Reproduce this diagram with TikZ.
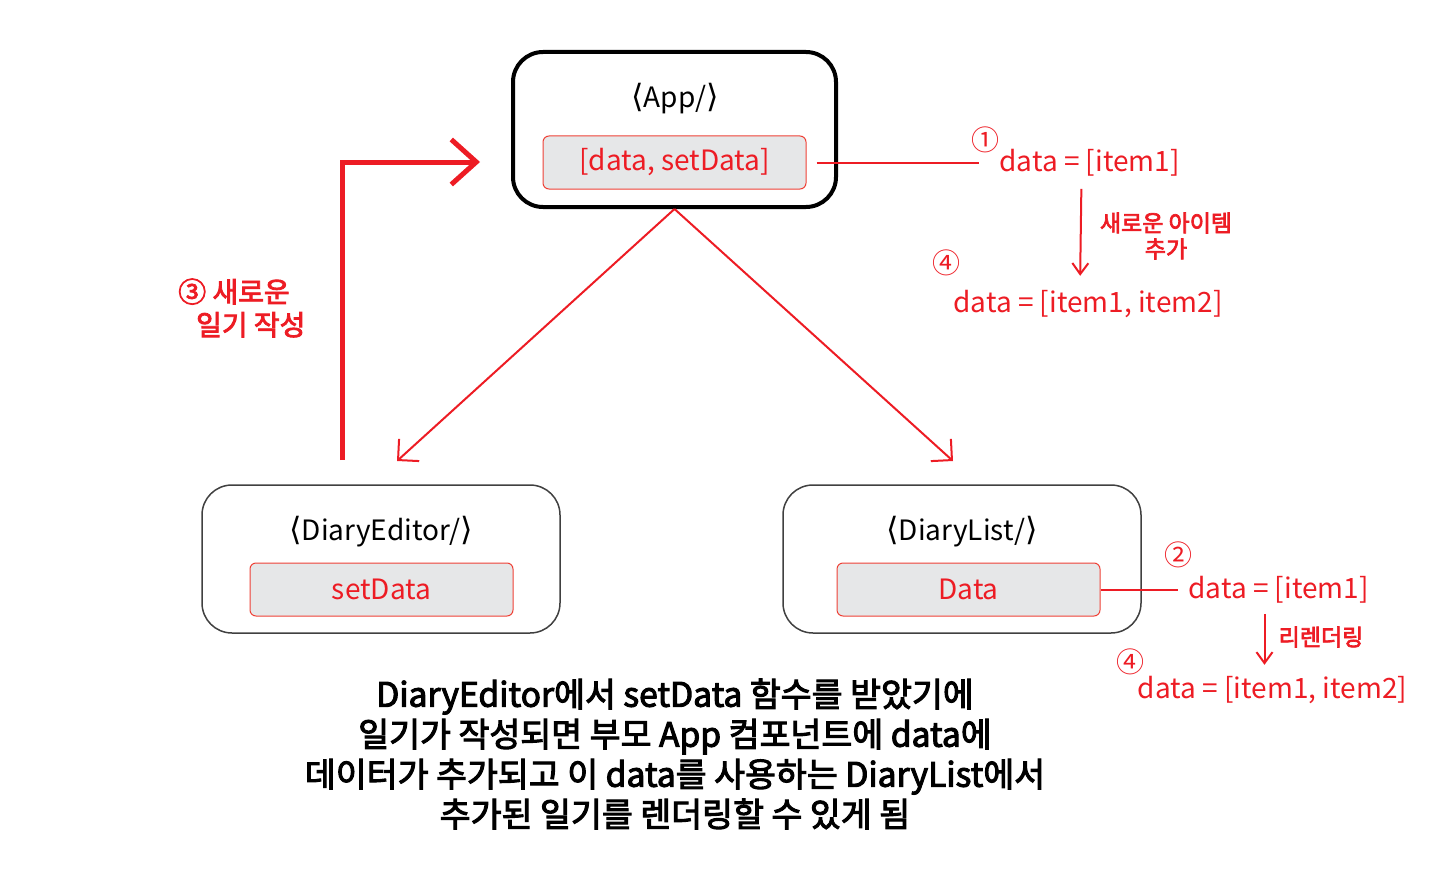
\documentclass[tikz,border=0pt]{standalone}
\usepackage{fontspec}
\setmainfont{Noto Sans CJK KR}
\newfontfamily\medfont[FakeBold=3]{Noto Sans CJK KR}
\newfontfamily\symfont{DejaVu Sans}
\usetikzlibrary{arrows.meta}
\definecolor{dred}{RGB}{237,28,36}
\definecolor{sred}{RGB}{239,65,54}
\definecolor{sgray}{RGB}{230,231,232}
\newcommand{\tag}[1]{{\symfont\fontsize{16}{16}\selectfont⟨}#1{\symfont\fontsize{16}{16}\selectfont⟩}}
\tikzset{
  comp/.style={draw=black!75, line width=0.75pt, rounded corners=15pt, minimum width=179pt, minimum height=74pt},
  statebox/.style={draw=sred, fill=sgray, line width=0.5pt, rounded corners=3pt, minimum width=131.5pt, minimum height=26.5pt, text=dred, font=\fontsize{14}{16}\selectfont},
  title/.style={font=\fontsize{14}{16}\selectfont},
  val/.style={text=dred, inner sep=1pt, font=\fontsize{14}{16}\selectfont},
  num/.style={text=dred, inner sep=0pt, font=\fontsize{14}{14}\selectfont},
  note/.style={text=dred, align=center, font=\medfont\fontsize{11.5}{13}\selectfont},
  thinarrow/.style={draw=dred, line width=1pt, -{Straight Barb[length=7.5pt,width=15pt]}},
  smallarrow/.style={draw=dred, line width=1pt, -{Straight Barb[length=5.5pt,width=8pt]}},
}
\begin{document}
\begin{tikzpicture}[x=0.5pt,y=-0.5pt]
    \useasboundingbox (0,0) rectangle (1440,888);
    % components
    \node[comp, draw=black, line width=2pt, minimum width=161.5pt, minimum height=77.5pt] (app) at (674.5,129.5) {};
    \node[title] (apptitle) at (675,99) {\tag{App/}};
    \node[statebox] (appstate) at (674.5,162.5) {[data, setData]};
    \node[comp] (editor) at (381,559) {};
    \node[title] (edtitle) at (381,532) {\tag{DiaryEditor/}};
    \node[statebox] (edstate) at (381.5,589.5) {setData};
    \node[comp] (list) at (962,559) {};
    \node[title] (lstitle) at (962,532) {\tag{DiaryList/}};
    \node[statebox] (lsstate) at (968.5,589.5) {Data};
    % props
    \coordinate (edin) at (397,461);
    \coordinate (lsin) at (953,461);
    \draw[thinarrow] (app.south) -- (edin);
    \draw[thinarrow] (app.south) -- (lsin);
    % new diary
    \coordinate (edout) at (342,460);
    \coordinate (appin) at (480,162);
    \draw[draw=dred, line width=2.5pt, -{Straight Barb[length=12.5pt,width=22.5pt]}] (edout) |- (appin);
    \node[text=dred, align=center, font=\medfont\fontsize{14}{16.5}\selectfont] (write) at (234,308) {③ 새로운\\\hspace{1.2em}일기 작성};
    % App state
    \node[val, anchor=west] (d1) at (997,163) {data = [item1]};
    \node[num] (n1) at (985,140) {①};
    \draw[dred, line width=1pt] ([xshift=5pt]appstate.east) -- ([xshift=-9pt]appstate.east -| d1.west);
    \node[val] (d2) at (1088,304) {data = [item1, item2]};
    \node[num] (n4a) at (946,263) {④};
    \draw[smallarrow, shorten <=5pt, shorten >=6pt] ([xshift=-4pt]d1.south) -- ([xshift=-4pt]d2.north);
    \node[note] (add) at (1166,236) {새로운 아이템\\추가};
    % DiaryList state
    \node[val, anchor=west] (d3) at (1186,590) {data = [item1]};
    \node[num] (n2) at (1178,555) {②};
    \draw[dred, line width=1pt] (lsstate.east) -- ([xshift=-4pt]lsstate.east -| d3.west);
    \node[val] (d4) at (1272.5,690) {data = [item1, item2]};
    \node[num] (n4b) at (1130,662) {④};
    \draw[smallarrow, shorten <=4pt, shorten >=4.5pt] ([xshift=-7pt]d3.south) -- ([xshift=-7pt]d3.south |- d4.north);
    \node[note] (rerender) at (1321,637) {리렌더링};
    % caption
    \node[align=center, font=\medfont\fontsize{16.8}{20}\selectfont] (caption) at (675,754) {DiaryEditor에서 setData 함수를 받았기에\\일기가 작성되면 부모 App 컴포넌트에 data에\\데이터가 추가되고 이 data를 사용하는 DiaryList에서\\추가된 일기를 렌더링할 수 있게 됨};
\end{tikzpicture}
\end{document}
